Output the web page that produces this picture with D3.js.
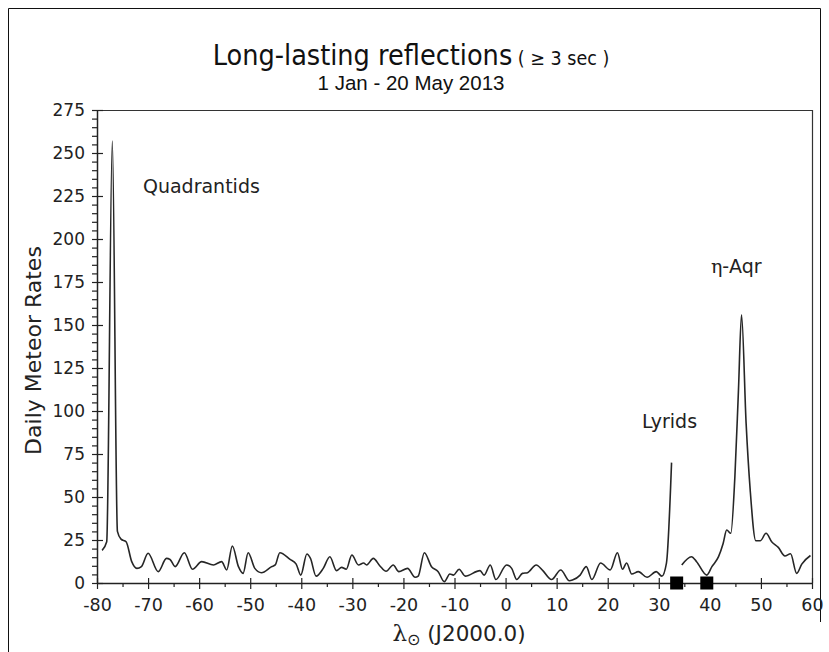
<!DOCTYPE html>
<html><head><meta charset="utf-8">
<script src="https://cdn.jsdelivr.net/npm/d3@7"></script>
<style>
html,body{margin:0;padding:0;background:#fff;}
svg{display:block;}
</style></head>
<body>
<script>
// ---- data ----
const lambda1 = [-79.0,-78.1,-77.0,-76.0,-75.3,-74.3,-73.2,-72.2,-71.3,-70.0,-68.0,-66.4,-65.7,-64.7,-62.9,-61.3,-59.5,-57.2,-55.6,-54.6,-53.5,-52.3,-51.4,-50.4,-49.1,-47.8,-45.8,-45.1,-44.2,-42.2,-41.0,-40.1,-38.9,-38.2,-37.1,-35.7,-34.4,-33.1,-32.1,-31.2,-30.1,-28.8,-27.8,-27.2,-25.9,-24.6,-23.4,-22.0,-20.9,-19.2,-17.7,-17.1,-15.9,-14.5,-13.2,-12.0,-10.9,-10.2,-9.1,-7.9,-5.0,-4.2,-3.0,-1.9,0.2,1.2,2.2,3.3,4.3,6.0,7.3,9.0,10.8,12.5,13.1,14.6,15.8,16.9,18.6,20.5,21.9,22.9,23.7,24.7,26.0,27.7,29.5,30.6,31.5,32.5];
const rates1  = [19,24,257,30,25.5,24,12.4,8.5,9.5,17.3,6.6,14.3,13.7,9.5,17.6,8,12.4,10.5,12.4,7.6,21.5,9.5,5.6,17.6,8.5,6,9.5,10.5,17.6,13.7,11,4.6,16.9,14.3,4,8.5,15.3,7.2,9.1,8,16.3,10.5,11.6,10.5,14.3,9.9,6.8,10.5,6.6,8.5,3.3,4,17.6,9.5,6.6,0.8,5.2,4.6,8,4,7.2,4.6,10.5,2,10.5,8.5,2,5.6,6,10.5,7.2,2,7.6,1.3,1.7,4.6,9.5,2,11.6,7.6,17.6,8,11.6,5.2,6.6,3.3,6.6,4,11.6,70];
const lambda2 = [34.5,36.4,37.4,39.4,40.4,41.7,42.6,43.3,44.1,44.9,45.6,46.2,47.1,47.9,49.0,49.9,51.0,52.1,53.4,54.7,55.8,57.0,58.0,59.7];
const rates2  = [10.5,15.3,12.4,4.6,9.5,15.3,23,30.8,28.9,61.8,112,156,92.8,54,24.6,24.6,28.9,24,20.7,15.7,17,5.6,11,16];
const markerLambda = [33.5, 39.4];
const xMajor = [-80,-70,-60,-50,-40,-30,-20,-10,0,10,20,30,40,50,60];
const yMajor = [0,25,50,75,100,125,150,175,200,225,250,275];
const showers = ["Quadrantids","Lyrids","η-Aqr"];
const showerLambda = [-71, 26.7, 40.2];
const showerRate = [227, 90, 180];

// ---- layout ----
const W = 829, H = 652;
const L = 97, R = 812, T = 110, B = 583;
const svg = d3.select("body").append("svg").attr("width", W).attr("height", H);
const x = d3.scaleLinear().domain([-80, 60]).range([L, R]);
const y = d3.scaleLinear().domain([0, 275]).range([B, T]);
const tickFont = "DejaVu Sans, Verdana, sans-serif";
const ink = "#222";
const fmt = d => String(d); // plain hyphen-minus like the reference

// outer frame
svg.append("path").attr("d", `M8.5,${H} V8.5 H820.5 V622`).attr("fill","none").attr("stroke","#111").attr("stroke-width",1);

// titles
const title = svg.append("text").attr("x", 411).attr("y", 65).attr("text-anchor","middle")
  .attr("font-family","Liberation Sans Narrow, DejaVu Sans Condensed, Arial Narrow, sans-serif").attr("fill","#111");
title.append("tspan").attr("font-size", 28.5).text("Long-lasting reflections");
title.append("tspan").attr("font-size", 19.5).text(" ( ≥ 3 sec )");
svg.append("text").attr("x", 411).attr("y", 90).attr("text-anchor","middle")
  .attr("font-family","Liberation Sans, Arial, sans-serif")
  .attr("font-size", 20.5).attr("fill","#111").text("1 Jan - 20 May 2013");

// frame top/right
svg.append("path").attr("d", `M${L},${T+0.5} H${R+0.5} V${B}`).attr("fill","none").attr("stroke","#333").attr("stroke-width",1.2);

// x axis minor
const xMinor = d3.range(-75, 60, 10);
const gxm = svg.append("g").attr("transform", `translate(0,${B})`)
  .call(d3.axisBottom(x).tickValues(xMinor).tickSize(4).tickFormat(""));
gxm.select(".domain").remove();
gxm.selectAll("line").attr("stroke", ink).attr("stroke-width",1.2);
// x axis major
const gx = svg.append("g").attr("transform", `translate(0,${B})`)
  .call(d3.axisBottom(x).tickValues(xMajor).tickFormat(fmt).tickSize(6).tickSizeOuter(0).tickPadding(10));
gx.select(".domain").attr("stroke", ink).attr("stroke-width",1.5);
gx.selectAll(".tick line").attr("y1", -5).attr("y2", 6).attr("stroke", ink).attr("stroke-width",1.2);
gx.selectAll(".tick text").attr("font-family", tickFont).attr("font-size", 17.5).attr("fill", ink);

// y axis minor
const yMinor = d3.range(5, 275, 5).filter(v => v % 25 !== 0);
const gym = svg.append("g").attr("transform", `translate(${L},0)`)
  .call(d3.axisLeft(y).tickValues(yMinor).tickSize(5).tickFormat(""));
gym.select(".domain").remove();
gym.selectAll("line").attr("stroke", ink).attr("stroke-width",1.2);
// y axis major
const gy = svg.append("g").attr("transform", `translate(${L},0)`)
  .call(d3.axisLeft(y).tickValues(yMajor).tickFormat(fmt).tickSize(5).tickSizeOuter(0).tickPadding(7));
gy.select(".domain").attr("stroke", ink).attr("stroke-width",1.5);
gy.selectAll(".tick line").attr("x1", 6).attr("x2", -5).attr("stroke", ink).attr("stroke-width",1.2);
gy.selectAll(".tick text").attr("font-family", tickFont).attr("font-size", 17).attr("fill", ink);

// axis titles
svg.append("text").attr("transform", `translate(41,${(T+B)/2 + 4}) rotate(-90)`)
  .attr("text-anchor","middle").attr("font-family", tickFont).attr("font-size", 22).attr("fill", ink)
  .text("Daily Meteor Rates");
const xt = svg.append("text").attr("x", 459).attr("y", 641).attr("text-anchor","middle")
  .attr("font-size", 23).attr("fill", ink);
xt.append("tspan").attr("font-family","DejaVu Serif, Liberation Serif, serif").text("λ");
xt.append("tspan").attr("font-family", tickFont).attr("font-size", 16).attr("dy", 4).text("⊙");
xt.append("tspan").attr("font-family", tickFont).attr("font-size", 21.5).attr("dy", -4).text(" (J2000.0)");

// line
const line = d3.line().x(d => x(d[0])).y(d => y(d[1])).curve(d3.curveMonotoneX);
[[lambda1, rates1], [lambda2, rates2]].forEach(([lx, ry]) => {
  svg.append("path").datum(lx.map((v, i) => [v, ry[i]]))
    .attr("d", line).attr("fill","none").attr("stroke","#262626").attr("stroke-width",1.6);
});

// markers
svg.selectAll("rect.mk").data(markerLambda).enter().append("rect").attr("class","mk")
  .attr("x", d => x(d) - 6.5).attr("y", y(0) - 6.5).attr("width", 13).attr("height", 13).attr("fill","#000");

// shower labels
showers.forEach((s, i) => {
  const t = svg.append("text").attr("x", x(showerLambda[i])).attr("y", y(showerRate[i]))
    .attr("font-family", tickFont).attr("font-size", 19).attr("fill", ink);
  if (s.startsWith("η")) {
    t.append("tspan").attr("font-family","DejaVu Serif, Liberation Serif, serif").text("η");
    t.append("tspan").text(s.slice(1));
  } else t.text(s);
});
</script>
</body></html>
